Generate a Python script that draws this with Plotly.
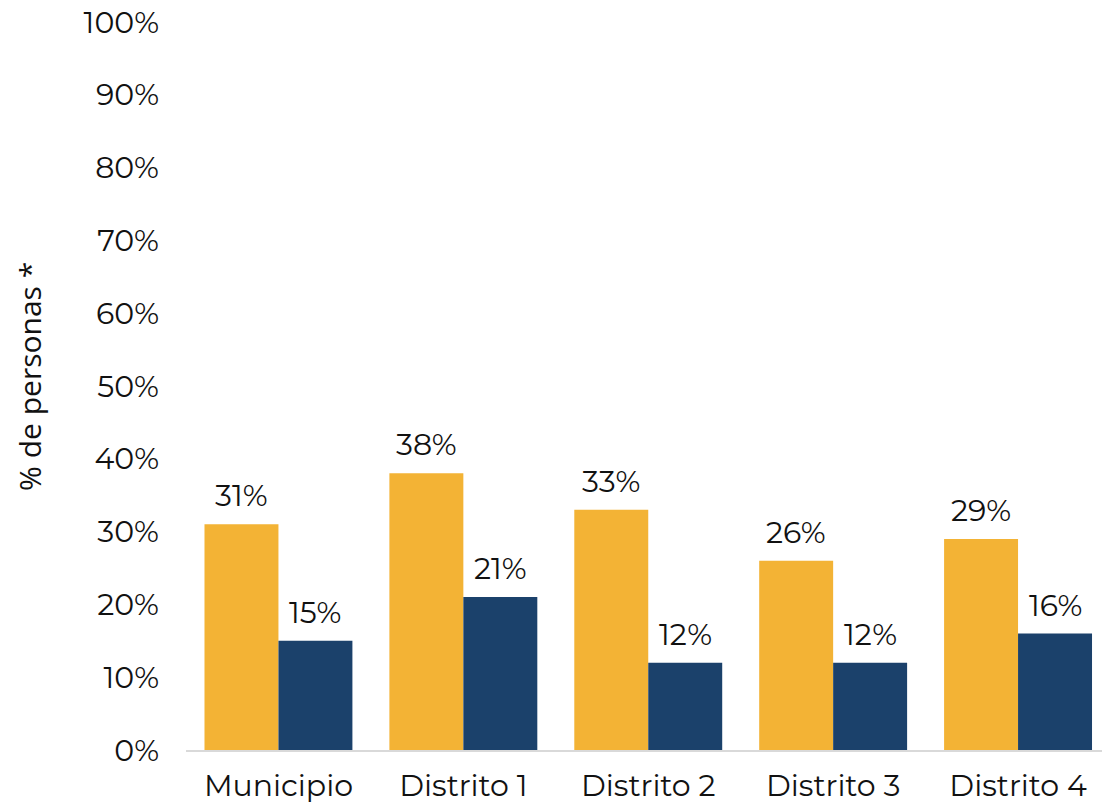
import plotly.graph_objects as go

categories = ["Municipio", "Distrito 1", "Distrito 2", "Distrito 3", "Distrito 4"]
serie_a = [31, 38, 33, 26, 29]
serie_b = [15, 21, 12, 12, 16]
y_ticks = list(range(0, 101, 10))
y_tick_labels = [f"{v}%" for v in y_ticks]

ORANGE = "#F3B335"
BLUE = "#1B416B"
FONT = "Montserrat, Inter, 'Open Sans', sans-serif"
SIZE = 30

fig = go.Figure()
fig.add_trace(go.Bar(x=categories, y=serie_a, marker_color=ORANGE,
                     marker_line_width=0, showlegend=False))
fig.add_trace(go.Bar(x=categories, y=serie_b, marker_color=BLUE,
                     marker_line_width=0, showlegend=False))

# value labels above each bar
bar_px = 74
for i, cat in enumerate(categories):
    for vals, shift in ((serie_a, -bar_px / 2), (serie_b, bar_px / 2)):
        fig.add_annotation(x=cat, y=vals[i], text=f"{vals[i]}%", showarrow=False,
                           xref="x", yref="y", xshift=shift, yshift=8,
                           yanchor="bottom", xanchor="center",
                           font=dict(family=FONT, size=SIZE, color="#111111"))

fig.add_annotation(text="% de personas *", textangle=-90, showarrow=False,
                   xref="paper", yref="paper", x=-0.171, y=0.513,
                   xanchor="center", yanchor="middle",
                   font=dict(family="'Open Sans', 'Noto Sans', sans-serif", size=30,
                             color="#111111"))

fig.update_layout(
    width=1102, height=804,
    margin=dict(l=186, r=0, t=22, b=54),
    paper_bgcolor="white", plot_bgcolor="white",
    barmode="group", bargap=0.2, bargroupgap=0,
    font=dict(family=FONT, size=SIZE, color="#111111"),
)
fig.update_xaxes(range=[-0.5, 4.454], showgrid=False, showline=True,
                 linecolor="#D9D9D9", linewidth=2, ticks="",
                 ticklabelstandoff=8,
                 tickfont=dict(family=FONT, size=SIZE, color="#111111"))
fig.update_yaxes(range=[0, 100], tickvals=y_ticks, ticktext=y_tick_labels,
                 showgrid=False, zeroline=False, showline=False, ticks="",
                 ticklabelstandoff=26,
                 tickfont=dict(family=FONT, size=SIZE, color="#111111"))

fig.write_html("out.html")
